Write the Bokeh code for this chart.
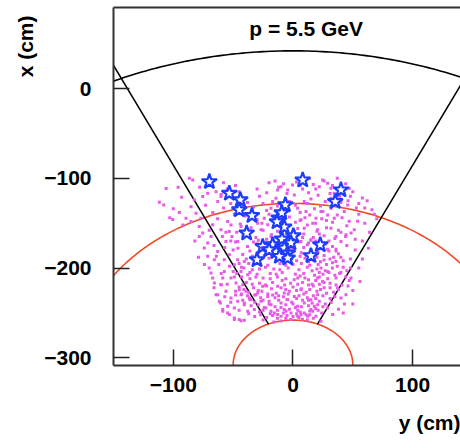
import numpy as np
from bokeh.plotting import figure
from bokeh.models import Range1d, LinearAxis, FixedTicker, Label, Title
from bokeh.embed import file_html
from bokeh.resources import INLINE

# ---- data -------------------------------------------------------------
title_text = "p = 5.5 GeV"
x_label = "y (cm)"
y_label = "x (cm)"
x_ticks = [-100, 0, 100]
y_ticks = [-300, -200, -100, 0]

# detector geometry (cm)
center_y = 0.0
center_x = -308.0
r_outer = 350.0
r_mid = 180.0
r_inner = 50.0
wedge_half_deg = 24.2

# reconstructed hits (y, x) in cm
dots_yx = [
    # left / upper-left
    (-106, -111.4), (-111.7, -126.7), (-108, -129.7), (-100, -134), (-103, -144), (-100.5, -146),
    (-86.6, -100), (-83.8, -102), (-75.4, -120.4), (-71.3, -116.7), (-64.3, -114.9), (-60.2, -120.4),
    (-62.9, -126), (-82.5, -124), (-85.2, -131.6), (-89.4, -144.4), (-85.2, -148.2), (-76.9, -144.4),
    (-78.3, -153.8), (-75.4, -161), (-68.5, -164.9), (-60.2, -157.4), (-54.6, -148.2), (-53.2, -159.3),
    (-56, -170.4), (-51.8, -152), (-43.4, -153.8), (-46.2, -170.4), (-67.1, -151.9), (-71.3, -172.2),
    (-78.3, -164.9), (-74.1, -177.8),
    (-71.3, -187), (-74, -196), (-68.5, -205.6), (-67.1, -211), (-65.7, -216.7), (-62.9, -229.7),
    (-60.7, -238.9), (-58.7, -248.2), (-53.2, -251.9), (-49, -257.4), (-43.4, -258.6), (-60.2, -218.6),
    (-58.7, -211), (-56, -226), (-51.8, -233.4), (-54.6, -242.7), (-49, -244.4), (-46.2, -237.1),
    (-43.4, -229.7), (-40.7, -240.8), (-37.8, -248.2), (-62.9, -181.6), (-65.7, -190.8), (-57.4, -190.8),
    (-53.2, -185.2), (-49, -196.3), (-46.2, -190.8), (-40.7, -192.6), (-43.4, -203.8), (-37.8, -207.4),
    (-57.4, -203.8), (-51.8, -211), (-47.6, -216.7), (-42, -218.6), (-44.9, -224.1), (-39.3, -226),
    (-36.5, -233.4),
    (-95, -138), (-92, -152), (-81, -139), (-73, -130), (-67, -138), (-58, -133), (-63, -145), (-70, -158),
    (-82, -170), (-66, -175), (-59, -165), (-79, -188), (-70, -200), (-62, -196), (-60, -206), (-66, -222),
    (-57, -232), (-52, -238), (-55, -218), (-48, -230), (-93, -121), (-96, -110), (-78, -110), (-70, -108),
    (-58, -105), (-52, -128), (-49, -140), (-64, -187), (-57, -177), (-52, -170),
    # right / lower-right
    (23.4, -200), (29, -203.8), (20.6, -211), (24.8, -214.9), (35.9, -192.6), (37.3, -222.2),
    (44.3, -229.7), (40.1, -233.4), (48.5, -211), (29, -244.4), (33.2, -251.9), (20.6, -240.8),
    (16.5, -248.2), (12.3, -253.8), (6.7, -251.9), (-1.7, -250), (-7.3, -246.3), (-12.8, -251.9),
    (-18.4, -248.2), (-22.6, -244.4), (-26.7, -237.1), (-30.9, -229.7),
    (45, -175), (52, -168), (48, -200), (40, -205), (43, -240), (38, -246), (50, -225), (58, -190),
    (63, -178), (68, -140), (60, -133), (54, -148), (47, -148), (36, -181),
    # upper middle / right
    (13.6, -100), (24.8, -101.9), (29, -105.6), (22, -109.3), (31.7, -111), (34.5, -116.7),
    (47, -111), (45.7, -129.7), (42.9, -137.1), (31.7, -133.3), (23.4, -137.1), (29, -140.8),
    (34.5, -144.4), (19.2, -144.4), (16.5, -150), (20.6, -157.4), (31.7, -155.6), (35.9, -164.9),
    (44.3, -163), (48.5, -161.1), (51.2, -157.4), (40.1, -170.4), (9.4, -155.6), (6.7, -146.3),
    (10.9, -137.1), (3.9, -133.3), (9.4, -126), (1.1, -118.6), (-4.4, -113), (-10, -109.3),
    (-14.2, -122.2), (-18.4, -133.3), (-24, -144.4), (-29.5, -150), (-21.1, -151.9), (-26.7, -157.4),
    (-18.4, -164.9), (1.1, -159.3), (6.7, -170.4), (15, -168.6), (-0.3, -107.4), (-12.8, -113),
    (31.7, -122.2),
    # bottom band
    (-60, -218.6), (-64.3, -229.7), (-61.6, -237.1), (-58.7, -246.3), (-54.6, -250), (-49, -255.6),
    (-44.9, -257.4), (-40.7, -258.2), (-40.7, -238.9), (-35.1, -235.2), (-32.3, -246.3), (-29.5, -227.8),
    (-25.3, -220.4), (-21.1, -231.6), (-18.4, -240.8), (-15.6, -250), (-10, -253.8), (-5.8, -248.2),
    (-1.7, -257.4), (3.9, -253.8), (9.4, -250), (15, -246.3), (19.2, -253.8), (23.4, -259.3),
    (15, -235.2), (20.6, -229.7), (6.7, -224.1), (1.1, -231.6), (-7.3, -227.8), (-12.8, -220.4),
    (-10, -238.9), (-4.4, -235.2), (9.4, -238.9), (3.9, -242.7), (17.8, -242.7),
    # core
    (-33, -171), (-27, -174), (-19, -172), (-12, -170), (-3, -173), (5, -171), (12, -174), (19, -170),
    (27, -173), (33, -176), (-38, -176), (-22, -177), (-8, -176), (9, -177), (24, -178),
    (-36, -181), (-29, -183), (-16, -180), (-10, -182), (1, -181), (7, -183), (15, -180), (21, -182),
    (30, -181), (38, -184), (-42, -185), (-24, -186), (-5, -185), (11, -186), (26, -186), (34, -188),
    (-39, -190), (-31, -192), (-20, -189), (-14, -191), (-7, -190), (3, -192), (10, -189), (17, -191),
    (23, -193), (31, -190), (42, -192), (-45, -195), (-27, -196), (-11, -195), (0, -196), (14, -197),
    (28, -196), (37, -198),
    (-41, -200), (-34, -202), (-23, -199), (-16, -201), (-4, -200), (5, -202), (12, -199), (20, -201),
    (27, -203), (33, -200), (45, -203), (-47, -206), (-30, -207), (-19, -206), (-9, -205), (2, -207),
    (9, -206), (18, -208), (25, -207), (39, -206),
    (-43, -210), (-36, -212), (-25, -211), (-13, -210), (-6, -212), (4, -211), (13, -213), (22, -210),
    (29, -212), (36, -211), (47, -214), (-39, -216), (-28, -217), (-17, -216), (-2, -217), (8, -216),
    (16, -218), (31, -217), (41, -219),
    (-45, -221), (-33, -222), (-22, -220), (-10, -222), (0, -221), (7, -223), (17, -220), (26, -222),
    (38, -224), (-37, -227), (-26, -226), (-14, -228), (-3, -226), (11, -227), (20, -226), (28, -228),
    (34, -227),
    (-38, -231), (-27, -233), (-17, -230), (-8, -232), (5, -231), (12, -233), (25, -231), (31, -234),
    (-32, -238), (-20, -237), (-12, -236), (-1, -238), (8, -236), (22, -237), (27, -240),
    (-35, -242), (-24, -244), (-15, -243), (-6, -241), (2, -244), (13, -242), (19, -245), (-28, -249),
    (-19, -251), (-8, -250), (6, -249), (11, -252), (24, -250), (-22, -255), (-13, -256), (0, -254),
    (8, -257), (17, -256), (-32, -254),
    (-30, -173), (-15, -175), (-1, -178), (13, -172), (22, -176), (29, -179), (-25, -180), (-3, -182),
    (18, -184), (36, -179), (-34, -187), (-18, -185), (-9, -188), (6, -187), (20, -188), (40, -188),
    (-28, -190), (-2, -191), (13, -193), (26, -191), (-37, -195), (-21, -197), (-6, -197), (7, -195),
    (21, -196), (33, -194), (-43, -199), (-28, -201), (-11, -202), (16, -203), (30, -205), (42, -199),
    (-36, -205), (-14, -207), (6, -209), (22, -205), (35, -208), (-49, -210), (-31, -210), (-19, -212),
    (-9, -214), (1, -213), (10, -211), (19, -214), (26, -216), (44, -210), (-34, -218), (-23, -219),
    (-7, -219), (4, -218), (13, -219), (22, -218), (36, -219), (-41, -224), (-29, -225), (-18, -223),
    (-6, -224), (3, -225), (14, -224), (23, -224), (31, -222), (-43, -229), (-32, -230), (-21, -229),
    (-12, -231), (-4, -229), (9, -229), (17, -231), (35, -232), (-36, -235), (-25, -236), (-15, -233),
    (-5, -235), (3, -234), (13, -236), (19, -234), (32, -238), (-29, -241), (-20, -240), (-10, -244),
    (0, -240), (7, -243), (16, -239), (25, -243), (-25, -247), (-13, -247), (-3, -246), (4, -247),
    (14, -248), (21, -247), (-37, -251), (-27, -252), (-17, -253), (-5, -253), (3, -251), (14, -252),
    (-25, -258), (-10, -259), (5, -255), (12, -258), (-16, -260), (-6, -256), (-45, -247), (-42, -236),
    (-48, -226), (-50, -204), (-53, -198), (-50, -180), (-46, -178), (-47, -160),
    # middle band
    (-40, -142), (-30, -146), (-20, -140), (-12, -148), (-3, -143), (6, -147), (14, -141), (24, -145),
    (33, -149), (41, -144), (-35, -155), (-25, -158), (-15, -153), (-5, -160), (4, -156), (12, -152),
    (20, -159), (28, -155), (38, -158), (45, -153), (-42, -164), (-31, -166), (-18, -163), (-9, -167),
    (0, -164), (9, -162), (17, -166), (26, -164), (35, -167), (44, -165), (-29, -169), (15, -169),
    (-36, -145), (-26, -150), (-8, -151), (2, -149), (10, -144), (19, -150), (28, -147), (37, -141),
    (-44, -151), (-39, -160), (-22, -168), (-13, -159), (-2, -169), (8, -166), (22, -162), (30, -170),
    (40, -160), (-48, -171), (-51, -165), (-56, -160),
    # upper band
    (-20, -105), (-12, -110), (-5, -117), (3, -104), (8, -112), (17, -107), (21, -119), (26, -103),
    (33, -108), (39, -120), (44, -106), (50, -115), (-28, -120), (-17, -126), (-6, -124), (2, -130),
    (12, -128), (18, -134), (27, -126), (36, -131), (46, -125), (53, -133), (-33, -132), (-22, -136),
    (-10, -137), (6, -138), (25, -137), (-38, -127), (-45, -115), (-55, -112), (-48, -108), (-60, -118),
    (-30, -112), (-22, -116), (-15, -103), (-8, -106), (6, -108), (13, -116), (19, -112), (31, -117),
    (40, -127), (48, -120), (55, -128), (-3, -126), (15, -123), (23, -131), (-25, -128), (-13, -131),
    (37, -100), (58, -122),
    # far right
    (55, -140), (60, -150), (58, -170), (52, -180), (48, -190), (55, -200), (46, -220), (62, -125),
    (66, -135), (70, -145), (64, -160), (50, -240), (42, -250), (56, -215),
]

# identified clusters (y, x) in cm
stars_yx = [
    (-69.9, -103.8), (-53.2, -116.7), (-44.0, -124.1), (-44.9, -135.2), (-34.3, -141.6),
    (-38.7, -161.1), (8.1, -101.9), (40.1, -113.0), (35.3, -126.0), (-6.4, -129.7),
    (-11.9, -144.4), (-9.4, -138.6), (-7.3, -154.4), (0.3, -164.1), (-9.2, -167.8),
    (-17.0, -174.1), (-25.3, -176.0), (-30.1, -190.8), (-14.2, -181.6), (-7.3, -177.8),
    (-4.4, -183.3), (-4.4, -188.9), (22.8, -174.1), (15.0, -186.3), (-11.4, -187.1),
    (-20.0, -179.7), (-1.7, -172.0), (-13.4, -148.6),
]

# ---- figure -----------------------------------------------------------
FONT = "Liberation Sans"
FS = "21px"

p = figure(width=460, height=448, x_range=Range1d(-150, 140), y_range=Range1d(-308.6, 90.3),
           output_backend="svg", toolbar_location=None,
           min_border_left=113, min_border_right=0, min_border_top=7, min_border_bottom=82,
           outline_line_color=None, background_fill_color="white", border_fill_color="white")
p.grid.visible = False

for ax, ticks, standoff in ((p.xaxis[0], x_ticks, 12), (p.yaxis[0], y_ticks, 22)):
    ax.ticker = FixedTicker(ticks=ticks)
    ax.major_tick_in = 16
    ax.major_tick_out = 0
    ax.minor_tick_in = 0
    ax.minor_tick_out = 0
    ax.axis_line_width = 2
    ax.axis_line_color = "#333333"
    ax.major_tick_line_width = 1.5
    ax.major_tick_line_color = "#222222"
    ax.major_label_text_font = FONT
    ax.major_label_text_font_style = "bold"
    ax.major_label_text_font_size = FS
    ax.major_label_text_color = "black"
    ax.major_label_standoff = standoff

top_axis = LinearAxis(ticker=FixedTicker(ticks=[]), axis_line_width=2, axis_line_color="#333333",
                      major_tick_in=0, major_tick_out=0, minor_tick_in=0, minor_tick_out=0,
                      major_label_standoff=0, major_label_text_font_size="0px")
p.add_layout(top_axis, "above")

# axis titles as side-panel titles (aligned toward the far ends)
p.add_layout(Title(text=y_label, align="right", offset=8, standoff=10,
                   text_font=FONT, text_font_style="bold", text_font_size=FS, text_color="black"), "left")
p.add_layout(Title(text=x_label, align="right", offset=0, standoff=29,
                   text_font=FONT, text_font_style="bold", text_font_size=FS, text_color="black"), "below")

# geometry lines
theta = np.radians(np.linspace(-95, 95, 400))
for r, col in ((r_outer, "black"), (r_mid, "#f04a28"), (r_inner, "#f04a28")):
    p.line(center_y + r * np.sin(theta), center_x + r * np.cos(theta), line_color=col, line_width=1.6)

wa = np.radians([-wedge_half_deg, wedge_half_deg])
r_far = 500.0
p.segment(x0=center_y + r_inner * np.sin(wa), y0=center_x + r_inner * np.cos(wa),
          x1=center_y + r_far * np.sin(wa), y1=center_x + r_far * np.cos(wa),
          line_color="black", line_width=1.5)

# hits
dy = [d[0] for d in dots_yx]
dx = [d[1] for d in dots_yx]
p.scatter(dy, dx, marker="square", size=3.0, fill_color="#e85ae8", line_color=None)

sy = [s[0] for s in stars_yx]
sx = [s[1] for s in stars_yx]
p.scatter(sy, sx, marker="star", size=16, fill_color="white", line_color="#1e3cff", line_width=2.2)

# in-plot title
p.add_layout(Label(x=11, y=67, text=title_text, text_align="center", text_baseline="middle",
                   text_font=FONT, text_font_style="bold", text_font_size=FS, text_color="black"))

open("out.html", "w").write(file_html(p, INLINE))
